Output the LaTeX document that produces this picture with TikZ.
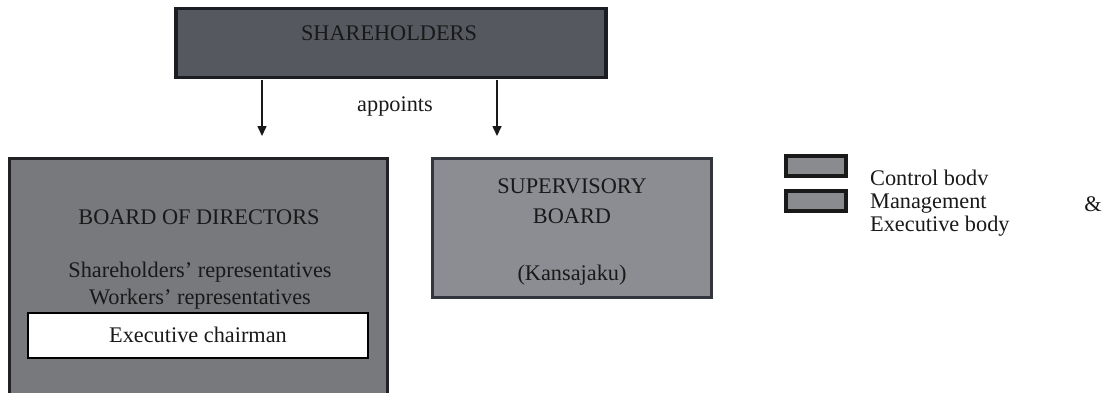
\documentclass[tikz,border=0pt]{standalone}
\usepackage{fontspec}
\setmainfont{Liberation Serif}
\usetikzlibrary{arrows.meta}
\definecolor{shfill}{HTML}{55585F}
\definecolor{shline}{HTML}{1C1D22}
\definecolor{bdfill}{HTML}{77797D}
\definecolor{bdline}{HTML}{222226}
\definecolor{sbfill}{HTML}{8B8D92}
\definecolor{sbline}{HTML}{33353D}
\definecolor{lgfill}{HTML}{8A8B8E}
\tikzset{
  boxbase/.style={rectangle, inner sep=0pt, outer sep=0pt},
  shbox/.style={boxbase, fill=shfill, draw=shline, line width=3.5pt},
  bdbox/.style={boxbase, fill=bdfill, draw=bdline, line width=3pt},
  sbbox/.style={boxbase, fill=sbfill, draw=sbline, line width=3pt},
  whbox/.style={boxbase, fill=white, draw=black, line width=2pt},
  lgbox/.style={boxbase, fill=lgfill, draw=black!90, line width=3.5pt},
  txt/.style={inner sep=0pt, font=\fontsize{22.3}{26}\selectfont, text=black!90},
  ltxt/.style={txt, anchor=west},
  arr/.style={-{Triangle[length=10pt,width=9pt]}, line width=1.6pt, draw=black!90}
}
\begin{document}
\begin{tikzpicture}[x=1pt,y=-1pt]
\useasboundingbox (0,0) rectangle (1108,392);
% Shareholders
\node[shbox, minimum width=430pt, minimum height=69pt] (sh) at (391,43) {};
\node[txt] (shT) at (389,33) {SHAREHOLDERS};
% arrows
\coordinate (tipL) at (262,136);
\coordinate (tipR) at (497,136);
\draw[arr] (sh.south -| tipL) ++(0,2) -- (tipL);
\draw[arr] (sh.south -| tipR) ++(0,2) -- (tipR);
\node[txt] (app) at (395,106) {appoints};
% Board of directors
\node[bdbox, minimum width=378pt, minimum height=244pt] (bd) at (198.5,280) {};
\node[txt] (bdT) at (199,217) {BOARD OF DIRECTORS};
\node[txt] (bd1) at (200,272) {Shareholders’ representatives};
\node[txt] (bd2) at (200,299) {Workers’ representatives};
\node[whbox, minimum width=340pt, minimum height=45pt] (ex) at (198,335.5) {};
\node[txt] (exT) at (198,335) {Executive chairman};
% Supervisory board
\node[sbbox, minimum width=279pt, minimum height=139pt] (sb) at (572,228) {};
\node[txt] (sb1) at (572,186) {SUPERVISORY};
\node[txt] (sb2) at (572,216) {BOARD};
\node[txt] (sb3) at (572,275) {(Kansajaku)};
% legend
\node[lgbox, minimum width=60pt, minimum height=20pt] (lg1) at (816,166) {};
\node[lgbox, minimum width=60pt, minimum height=20pt] (lg2) at (816,201) {};
\node[ltxt] (l1) at (870,178) {Control bodv};
\node[ltxt] (l2) at (870,204) {Management};
\node[txt] (amp) at (1093,204) {\&};
\node[ltxt] (l3) at (870,226) {Executive body};
\end{tikzpicture}
\end{document}
